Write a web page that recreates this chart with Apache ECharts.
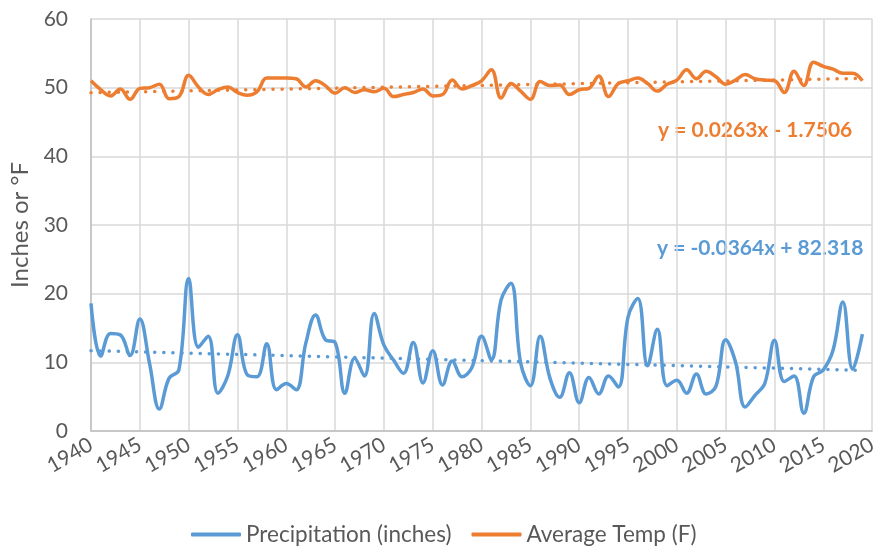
<!DOCTYPE html>
<html><head><meta charset="utf-8">
<script src="https://cdn.jsdelivr.net/npm/echarts@6/dist/echarts.min.js"></script>
<style>html,body{margin:0;padding:0;background:#fff}#c{width:880px;height:548px}</style>
</head><body><div id="c"></div>
<script>
var years = [1940,1941,1942,1943,1944,1945,1946,1947,1948,1949,
1950,1951,1952,1953,1954,1955,1956,1957,1958,1959,
1960,1961,1962,1963,1964,1965,1966,1967,1968,1969,
1970,1971,1972,1973,1974,1975,1976,1977,1978,1979,
1980,1981,1982,1983,1984,1985,1986,1987,1988,1989,
1990,1991,1992,1993,1994,1995,1996,1997,1998,1999,
2000,2001,2002,2003,2004,2005,2006,2007,2008,2009,
2010,2011,2012,2013,2014,2015,2016,2017,2018,2019];
var precipitation = [18.6,10.9,14.2,14.0,11.0,16.3,9.8,3.2,7.7,8.9,
22.2,12.2,13.8,5.5,8.0,14.0,8.2,7.9,12.7,6.0,
6.9,6.0,12.8,16.9,13.3,12.9,5.5,10.6,8.0,17.1,
12.5,10.3,8.4,12.9,7.0,11.7,6.7,10.2,7.9,9.2,
13.8,10.4,19.1,21.5,9.9,6.6,13.8,7.7,4.9,8.5,
4.1,7.8,5.4,8.0,6.4,16.6,19.3,9.5,14.8,6.6,
7.4,5.5,8.3,5.4,6.5,13.3,10.1,3.5,5.2,6.9,
13.2,7.2,8.0,2.6,7.9,8.9,11.8,18.8,9.0,14.1];
var avgTemp = [51.0,49.7,48.8,49.8,48.3,49.9,50.0,50.5,48.4,48.7,
51.8,50.1,49.0,49.7,50.1,49.3,48.9,49.4,51.4,51.4,
51.4,51.3,50.1,51.0,50.3,49.2,50.0,49.3,49.7,49.4,
49.9,48.7,49.0,49.3,49.8,48.8,49.0,51.1,49.8,50.3,
51.0,52.6,48.5,50.6,49.5,48.3,50.9,50.3,50.4,49.0,
49.7,49.9,51.7,48.7,50.6,51.0,51.4,50.6,49.5,50.5,
51.1,52.6,51.3,52.4,51.6,50.5,51.1,51.9,51.3,51.1,
51.0,49.3,52.4,50.3,53.7,53.1,52.7,52.1,52.1,51.0];
var precipTrend = {slope: -0.0364, intercept: 82.318, label: 'y = -0.0364x + 82.318'};
var tempTrend = {slope: 0.0263, intercept: -1.7506, label: 'y = 0.0263x - 1.7506'};
var seriesNames = ['Precipitation (inches)', 'Average Temp (F)'];
var yAxisTitle = 'Inches or °F';

var BLUE = '#5B9BD5', ORANGE = '#ED7D31', TXT = '#595959', FONT = 'Lato, "Open Sans", sans-serif';
function pairs(vals){ return years.map(function(y,i){ return [y, vals[i]]; }); }
function trend(t){
  var a = years[0], b = years[years.length-1];
  return [[a, t.slope*a + t.intercept],[b, t.slope*b + t.intercept]];
}
var chart = echarts.init(document.getElementById('c'), null, {renderer:'canvas'});
chart.setOption({
  animation: false,
  textStyle: {fontFamily: FONT},
  grid: {left: 91, right: 6, top: 19, bottom: 117, containLabel: false},
  xAxis: {
    type: 'value', min: 1940, max: 2020, interval: 5,
    axisLine: {show: true, lineStyle: {color: '#bfbfbf', width: 1.5}},
    axisTick: {show: false},
    splitLine: {show: true, lineStyle: {color: '#d9d9d9', width: 1.5}},
    axisLabel: {rotate: 30, color: TXT, fontSize: 21, fontFamily: FONT, margin: 12,
      formatter: function(v){ return String(v); }}
  },
  yAxis: {
    type: 'value', min: 0, max: 60, interval: 10,
    name: yAxisTitle, nameLocation: 'middle', nameGap: 57, nameRotate: 90,
    nameTextStyle: {color: TXT, fontSize: 24, fontFamily: FONT},
    axisLine: {show: true, lineStyle: {color: '#bfbfbf', width: 1.5}},
    axisTick: {show: false},
    splitLine: {show: true, lineStyle: {color: '#d9d9d9', width: 1.5}},
    axisLabel: {color: TXT, fontSize: 21, fontFamily: FONT, margin: 23}
  },
  legend: {
    top: 518, left: 186, itemGap: 20, itemWidth: 50, itemHeight: 4,
    icon: 'roundRect',
    data: seriesNames,
    textStyle: {color: TXT, fontSize: 22.5, fontFamily: FONT, padding: [0,0,0,0]}
  },
  series: [
    {name: seriesNames[0], type: 'line', data: pairs(precipitation), smooth: 0.4, showSymbol: false,
      lineStyle: {color: BLUE, width: 3.5}, itemStyle: {color: BLUE}, z: 3},
    {name: seriesNames[1], type: 'line', data: pairs(avgTemp), smooth: 0.4, showSymbol: false,
      lineStyle: {color: ORANGE, width: 3.5}, itemStyle: {color: ORANGE}, z: 3},
    {name: 'precipTrend', type: 'line', data: trend(precipTrend), showSymbol: false, silent: true,
      lineStyle: {color: BLUE, width: 3.5, type: [0.1, 9], cap: 'round'}, z: 2},
    {name: 'tempTrend', type: 'line', data: trend(tempTrend), showSymbol: false, silent: true,
      lineStyle: {color: ORANGE, width: 3.5, type: [0.1, 9], cap: 'round'}, z: 2}
  ],
  graphic: [
    {type: 'text', left: 658, top: 120, style: {text: tempTrend.label, fill: ORANGE, font: 'bold 21px ' + FONT}},
    {type: 'text', left: 657, top: 238, style: {text: precipTrend.label, fill: BLUE, font: 'bold 21px ' + FONT}}
  ]
});
</script>
</body></html>
